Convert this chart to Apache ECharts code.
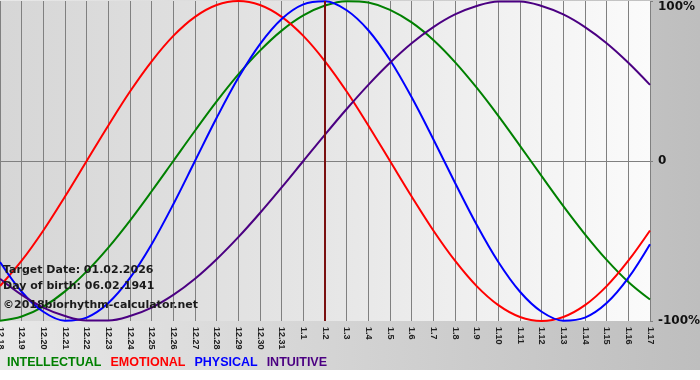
<!DOCTYPE html>
<html>
<head>
<meta charset="utf-8">
<script src="https://cdn.jsdelivr.net/npm/echarts@6/dist/echarts.min.js"></script>
<style>
html,body{margin:0;padding:0;background:#fff;}
#chart{width:700px;height:380px;}
</style>
</head>
<body>
<div id="chart"></div>
<script>
// Categories (month.day)
var days = ['12.18','12.19','12.20','12.21','12.22','12.23','12.24','12.25','12.26','12.27','12.28','12.29','12.30','12.31',
  '1.1','1.2','1.3','1.4','1.5','1.6','1.7','1.8','1.9','1.10','1.11','1.12','1.13','1.14','1.15','1.16','1.17'];

// Series values (fraction of 100%), read per day
var intellectual = [-0.999,-0.972,-0.910,-0.815,-0.690,-0.541,-0.372,-0.189,0.000,0.189,0.372,0.541,0.690,0.815,0.910,0.972,
  0.999,0.990,0.945,0.866,0.756,0.618,0.458,0.282,0.095,-0.095,-0.282,-0.458,-0.618,-0.756,-0.866];
var emotional = [-0.782,-0.623,-0.434,-0.222,0.000,0.222,0.434,0.623,0.782,0.901,0.975,1.000,0.975,0.901,0.782,0.623,
  0.434,0.222,0.000,-0.222,-0.434,-0.623,-0.782,-0.901,-0.975,-1.000,-0.975,-0.901,-0.782,-0.623,-0.434];
var physical = [-0.631,-0.817,-0.942,-0.998,-0.979,-0.888,-0.731,-0.520,-0.270,0.000,0.270,0.520,0.731,0.888,0.979,0.998,
  0.942,0.817,0.631,0.398,0.136,-0.136,-0.398,-0.631,-0.817,-0.942,-0.998,-0.979,-0.888,-0.731,-0.520];
var intuitive = [-0.736,-0.837,-0.916,-0.969,-0.997,-0.997,-0.969,-0.916,-0.837,-0.736,-0.614,-0.476,-0.325,-0.165,0.000,0.165,
  0.325,0.476,0.614,0.736,0.837,0.916,0.969,0.997,0.997,0.969,0.916,0.837,0.736,0.614,0.476];

var targetDay = '1.2';
var yTicks = {'1':'100%','0':'0','-1':'-100%'};
var legendNames = ['INTELLECTUAL','EMOTIONAL','PHYSICAL','INTUITIVE'];
var infoLines = ['Target Date: 01.02.2026','Day of birth: 06.02.1941','\u00A92018biorhythm-calculator.net'];

var colors = ['#008000','#ff0000','#0000ff','#4b0082'];
var values = [intellectual, emotional, physical, intuitive];

var chart = echarts.init(document.getElementById('chart'), null, {renderer:'canvas'});

var series = legendNames.map(function(n,i){
  return {
    name:n, type:'line', data:values[i], smooth:0.35, symbol:'none',
    lineStyle:{color:colors[i], width:2}, itemStyle:{color:colors[i]}, z:3
  };
});
series[0].markLine = {
  silent:true, symbol:['none','none'], label:{show:false},
  lineStyle:{color:'#7a1010', width:2, type:'solid'},
  data:[{xAxis:targetDay}]
};

chart.setOption({
  animation:false,
  backgroundColor:'#ffffff',
  graphic:[
    {type:'rect', left:0, top:0, z:-10, silent:true,
      shape:{width:700, height:370},
      style:{fill:new echarts.graphic.LinearGradient(0,0,1,0,[{offset:0,color:'#e8e8e8'},{offset:1,color:'#bebebe'}])}},
    {type:'text', left:3, top:265, z:10, style:{text:infoLines[0], font:'bold 11px "DejaVu Sans"', fill:'#1a1a1a'}},
    {type:'text', left:3, top:281, z:10, style:{text:infoLines[1], font:'bold 11px "DejaVu Sans"', fill:'#1a1a1a'}},
    {type:'text', left:3, top:300, z:10, style:{text:infoLines[2], font:'bold 11px "DejaVu Sans"', fill:'#1a1a1a'}}
  ],
  grid:{left:0, right:50, top:1, bottom:59, show:true, borderWidth:0, containLabel:false, outerBoundsMode:'none',
    backgroundColor:new echarts.graphic.LinearGradient(0,0,1,0,[{offset:0,color:'#d6d6d6'},{offset:0.5,color:'#e6e6e6'},{offset:1,color:'#fbfbfb'}])},
  legend:{
    left:-3, top:351, icon:'none', itemWidth:0, itemHeight:0, itemGap:4,
    textStyle:{fontFamily:'"Liberation Sans"', fontSize:12.5, fontWeight:'bold'},
    data:legendNames.map(function(n,i){return {name:n, textStyle:{color:colors[i]}};}),
    selectedMode:false
  },
  xAxis:{
    type:'category', data:days, boundaryGap:false,
    axisLine:{show:true, lineStyle:{color:'#808080', width:1}},
    axisTick:{show:true, length:4, lineStyle:{color:'#808080'}},
    splitLine:{show:true, lineStyle:{color:'#808080', width:1}},
    axisLabel:{interval:0, rotate:-90, margin:6, color:'#222', fontFamily:'"Liberation Sans"', fontSize:9, fontWeight:'bold'}
  },
  yAxis:{
    type:'value', position:'right', min:-1, max:1, interval:1,
    axisLine:{show:false},
    axisTick:{show:true, length:3, lineStyle:{color:'#808080'}},
    splitLine:{show:true, lineStyle:{color:['rgba(0,0,0,0)','#808080','rgba(0,0,0,0)'], width:1}},
    axisLabel:{margin:8, color:'#111', fontFamily:'"DejaVu Sans"', fontSize:12, fontWeight:'bold',
      formatter:function(v){ var t = yTicks[String(v)]; return v===1 ? '{t|'+t+'}' : t; },
      rich:{t:{padding:[12,0,0,0], fontFamily:'"DejaVu Sans"', fontSize:12, fontWeight:'bold', color:'#111'}}
    }
  },
  series:series
});
</script>
</body>
</html>
